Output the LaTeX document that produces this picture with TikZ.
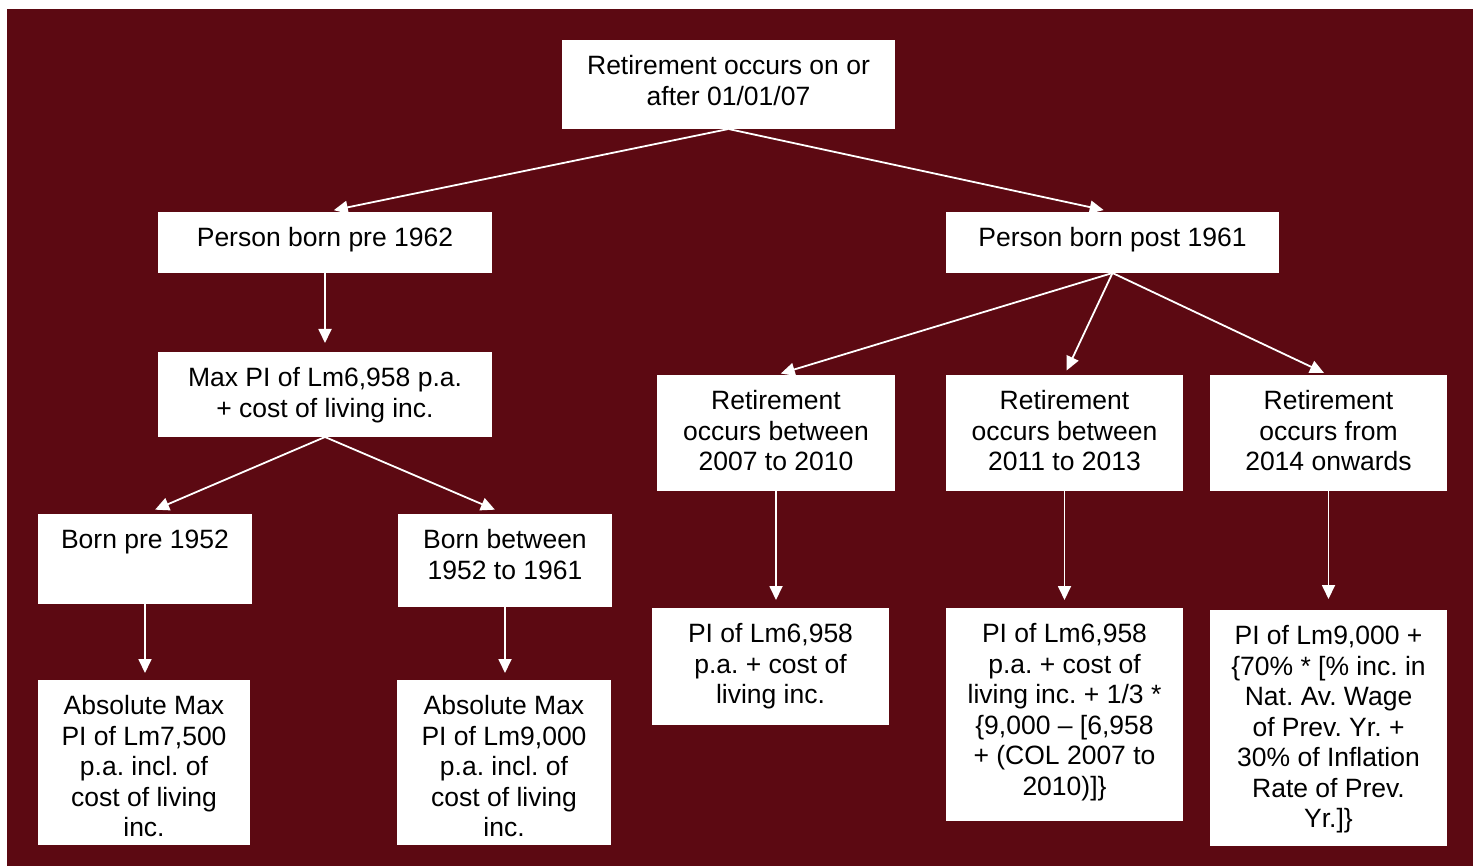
\documentclass[tikz,border=0pt]{standalone}
\usepackage{fontspec}
\setmainfont{Liberation Sans}
\usetikzlibrary{arrows.meta}
\definecolor{bgred}{RGB}{92,9,18}
\frenchspacing
\tikzset{
  bx/.style={draw=none, fill=white, inner sep=0pt, outer sep=0pt},
  txt/.style={inner sep=0pt, align=center, font=\fontsize{26.5}{30.5}\selectfont\frenchspacing, text=black},
  arr/.style={draw=white, line width=1.8pt, -{Triangle[length=14pt,width=13pt]}}
}
\newcommand\mybox[6]{%
  \node[bx, minimum width={(#4-#2)*1pt}, minimum height={(#5-#3)*1pt}] (#1) at ({(#2+#4)/2},{(#3+#5)/2}) {};
  \node[txt, anchor=north] (#1t) at ([yshift=-13pt]#1.north) {\strut #6};
}
\begin{document}
\begin{tikzpicture}[x=1pt,y=-1pt]
\useasboundingbox (0,0) rectangle (1478,866);
\fill[white] (0,0) rectangle (1478,866);
\fill[bgred] (7,9) rectangle (1473,866);
\mybox{top}{562}{40}{895}{129}{Retirement occurs on or\\after 01/01/07}
\mybox{pre}{158}{212}{492}{273}{Person born pre 1962}
\mybox{post}{946}{212}{1279}{273}{Person born post 1961}
\mybox{maxpi}{158}{352}{492}{437}{Max PI of Lm6,958 p.a.\\+ cost of living inc.}
\mybox{bpre}{38}{514}{252}{604}{Born pre 1952}
\mybox{bbet}{398}{514}{612}{607}{Born between\\1952 to 1961}
\mybox{absa}{38}{680}{250}{845}{Absolute Max\\PI of Lm7,500\\p.a. incl. of\\cost of living\\inc.}
\mybox{absb}{397}{680}{611}{845}{Absolute Max\\PI of Lm9,000\\p.a. incl. of\\cost of living\\inc.}
\mybox{ra}{657}{375}{895}{491}{Retirement\\occurs between\\2007 to 2010}
\mybox{rb}{946}{375}{1183}{491}{Retirement\\occurs between\\2011 to 2013}
\mybox{rc}{1210}{375}{1447}{491}{Retirement\\occurs from\\2014 onwards}
\mybox{pa}{652}{608}{889}{725}{PI of Lm6,958\\p.a. + cost of\\living inc.}
\mybox{pb}{946}{608}{1183}{821}{PI of Lm6,958\\p.a. + cost of\\living inc. + 1/3 *\\\{9,000 -- [6,958\\+ (COL 2007 to\\2010)]\}}
\mybox{pc}{1210}{610}{1447}{846}{PI of Lm9,000 +\\\{70\% * [\% inc. in\\Nat. Av. Wage\\of Prev. Yr. +\\30\% of Inflation\\Rate of Prev.\\Yr.]\}}
% connectors
\draw[arr, shorten >=9pt] (top.south) -- (pre.north);
\draw[arr, shorten >=9pt] (top.south) -- (post.north);
\draw[arr, shorten >=9pt] (pre.south) -- (maxpi.north);
\draw[arr, shorten >=11pt] (maxpi.south) -- (bpre.north);
\draw[arr, shorten >=11pt] (maxpi.south) -- (bbet.north);
\draw[arr, shorten >=7pt] (bpre.south) -- (bpre.south |- absa.north);
\draw[arr, shorten >=7pt] (bbet.south) -- (bbet.south |- absb.north);
\draw[arr, shorten >=5pt] (post.south) -- (ra.north);
\draw[arr, shorten >=5pt] (post.south) -- (rb.north);
\draw[arr, shorten >=5pt] (post.south) -- (rc.north);
\draw[arr, shorten >=8pt] (ra.south) -- (ra.south |- pa.north);
\draw[arr, shorten >=8pt] (rb.south) -- (rb.south |- pb.north);
\draw[arr, shorten >=11pt] (rc.south) -- (rc.south |- pc.north);
\end{tikzpicture}
\end{document}
